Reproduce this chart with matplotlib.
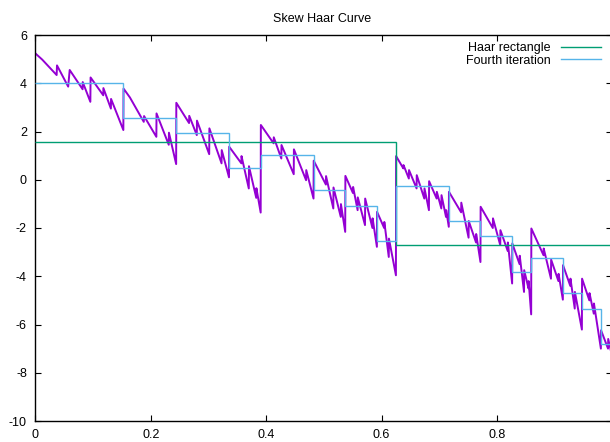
import matplotlib
matplotlib.use('Agg')
import matplotlib.pyplot as plt

plt.rcParams['font.family'] = ['Liberation Sans', 'DejaVu Sans']
plt.rcParams['axes.unicode_minus'] = False

# purple curve (jumps give two points at nearly the same x)
curve_x = [0, 0.012, 0.037, 0.0376, 0.057, 0.0596, 0.082, 0.0822, 0.0954, 0.0958,
           0.1178, 0.118, 0.131, 0.1313, 0.1526,
           0.1529, 0.164, 0.188, 0.1885, 0.2098, 0.2101, 0.2313, 0.2316, 0.2441,
           0.2444, 0.2665, 0.2668, 0.2799, 0.2802, 0.3014, 0.3017, 0.3228, 0.3231, 0.3357,
           0.336, 0.3571, 0.3574, 0.37, 0.3703, 0.3829, 0.3832, 0.3906,
           0.3909, 0.413, 0.4133, 0.4264, 0.4267, 0.4479, 0.4482, 0.4693, 0.4696, 0.4822,
           0.4825, 0.5036, 0.5039, 0.5165, 0.5168, 0.5294, 0.5297, 0.5371,
           0.5374, 0.5505, 0.5508, 0.5586, 0.5589, 0.5714, 0.5717, 0.5843, 0.5846, 0.592,
           0.5923, 0.6046, 0.6049, 0.6126, 0.6129, 0.625,
           0.6253, 0.6378, 0.6381, 0.6474, 0.6477, 0.6608, 0.6611, 0.6742, 0.6745,
           0.6822, 0.6825, 0.6956, 0.6959, 0.7037, 0.704, 0.7118, 0.7121, 0.7166,
           0.7169, 0.738, 0.7383, 0.7509, 0.7512, 0.7638, 0.7641, 0.7715,
           0.7718, 0.7929, 0.7932, 0.8058, 0.8061, 0.8187, 0.819, 0.8264,
           0.8267, 0.8393, 0.8396, 0.847, 0.8473, 0.8547, 0.855, 0.8594,
           0.8597, 0.8808, 0.8811, 0.8937, 0.894, 0.9066, 0.9069, 0.9143,
           0.9146, 0.9272, 0.9275, 0.9349, 0.9352, 0.9473,
           0.9476, 0.9602, 0.9605, 0.9679, 0.9682, 0.9802,
           0.9805, 0.9926, 0.9929, 1.0]
curve_y = [5.24, 4.98, 4.34, 4.74, 3.86, 4.55, 3.75, 4.05, 3.23, 4.24,
           3.5, 3.8, 2.95, 3.35, 2.06,
           3.78, 3.41, 2.4, 2.64, 1.78, 2.75, 1.45, 1.95, 0.65,
           3.19, 2.35, 2.65, 1.85, 2.45, 1.06, 2.13, 0.68, 1.23, 0.1,
           1.37, 0.68, 0.98, -0.36, 0.56, -0.75, -0.35, -1.36,
           2.27, 1.51, 1.76, 0.88, 1.44, 0.23, 1.26, -0.02, 0.4, -0.78,
           0.79, -0.2, 0.15, -1.19, -0.32, -1.54, -1.01, -2.16,
           0.16, -0.55, -0.3, -1.26, -0.73, -1.88, -0.78, -2.0, -1.6, -2.78,
           -1.33, -2.0, -1.75, -3.2, -2.44, -3.96,
           0.98, 0.47, 0.61, 0.05, 0.4, -0.36, 0.19, -0.78, -0.36,
           -1.26, -0.06, -0.78, -0.5, -1.19, -0.64, -1.54, -1.26, -1.95,
           -0.5, -1.35, -0.95, -2.4, -1.71, -2.6, -2.25, -3.41,
           -1.12, -2.0, -1.6, -2.71, -2.09, -2.95, -2.6, -4.3,
           -2.64, -3.5, -3.15, -4.65, -3.75, -4.5, -4.2, -5.58,
           -2.02, -3.13, -2.85, -4.1, -3.31, -4.2, -3.9, -4.97,
           -3.54, -4.4, -4.1, -5.34, -4.65, -6.21,
           -4.1, -5.0, -4.7, -5.55, -5.13, -7.0,
           -6.24, -7.0, -6.6, -7.35]

# Haar rectangle (first split)
haar_edges = [0, 0.625, 1.0]
haar_vals = [1.56, -2.71]

# fourth iteration steps
fourth_edges = [0, 0.1526, 0.2441, 0.3357, 0.3906, 0.4822, 0.5371, 0.592, 0.625,
                0.7166, 0.7715, 0.8264, 0.8594, 0.9143, 0.9473, 0.9802, 1.0]
fourth_vals = [4.02, 2.57, 1.95, 0.47, 1.03, -0.43, -1.08, -2.52,
               -0.25, -1.72, -2.35, -3.81, -3.25, -4.71, -5.34, -6.81]

fig = plt.figure(figsize=(6.1, 4.42), dpi=100)
ax = fig.add_axes([35.3 / 610, 21 / 442, 577 / 610, 386 / 442])

ax.plot(curve_x, curve_y, color='#9400d3', lw=1.4, zorder=2)
ax.stairs(haar_vals, haar_edges, baseline=None, color='#009e73', lw=1.0,
          label='Haar rectangle', zorder=3)
ax.stairs(fourth_vals, fourth_edges, baseline=None, color='#56b4e9', lw=1.0,
          label='Fourth iteration', zorder=4)

ax.set_xlim(0, 1)
ax.set_ylim(-10, 6)
ax.set_xticks([0, 0.2, 0.4, 0.6, 0.8])
ax.set_xticklabels(['0', '0.2', '0.4', '0.6', '0.8'])
ax.set_yticks(range(-10, 7, 2))
ax.tick_params(direction='in', top=True, right=True, length=4, width=0.8,
               labelsize=9, pad=6)
for s in ax.spines.values():
    s.set_linewidth(1.0)

ax.set_title('Skew Haar Curve', fontsize=9, pad=9, x=(322 - 35.3) / 577)

leg = ax.legend(loc='upper right', bbox_to_anchor=(0.995, 1.004), frameon=False,
                markerfirst=False, fontsize=9, handlelength=3.2,
                labelspacing=0.05, borderaxespad=0.3, handletextpad=0.8)

fig.savefig('out.png', dpi=100)
